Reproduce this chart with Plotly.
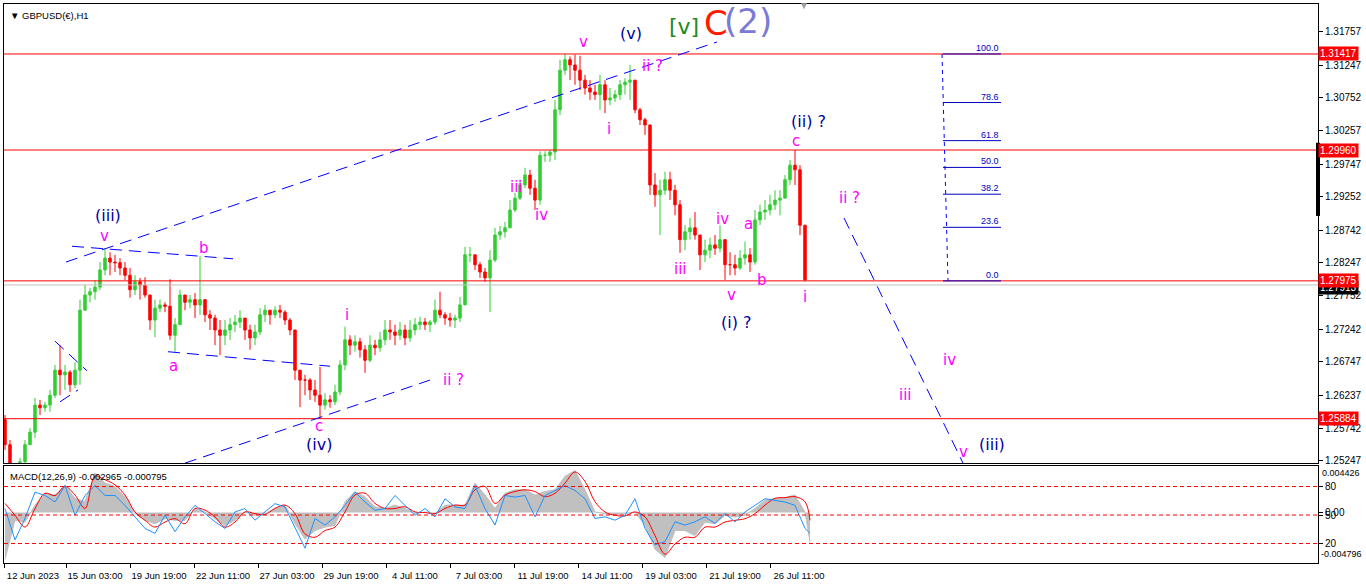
import plotly.graph_objects as go

# GBPUSD H1, 12 Jun - 27 Jul 2023, one candle per 5 hourly bars
first_open = 1.2587
high = [
    1.2594, 1.2556, 1.2511, 1.2529, 1.2556, 1.2574, 1.2620, 1.2617, 1.2614, 1.2632,
    1.2670, 1.2700, 1.2670, 1.2662, 1.2674, 1.2769, 1.2791, 1.2787, 1.2799, 1.2826,
    1.2847, 1.2841, 1.2837, 1.2832, 1.2826, 1.2817, 1.2806, 1.2802, 1.2803, 1.2776,
    1.2769, 1.2769, 1.2765, 1.2800, 1.2741, 1.2784, 1.2776, 1.2776, 1.2779, 1.2835,
    1.2769, 1.2753, 1.2746, 1.2738, 1.2738, 1.2741, 1.2746, 1.2753, 1.2741, 1.2731,
    1.2731, 1.2756, 1.2761, 1.2753, 1.2759, 1.2761, 1.2753, 1.2741, 1.2723, 1.2662,
    1.2655, 1.2650, 1.2647, 1.2667, 1.2627, 1.2624, 1.2640, 1.2677, 1.2728, 1.2715,
    1.2715, 1.2711, 1.2700, 1.2715, 1.2708, 1.2720, 1.2738, 1.2738, 1.2731, 1.2735,
    1.2731, 1.2738, 1.2741, 1.2743, 1.2741, 1.2738, 1.2769, 1.2781, 1.2750, 1.2749,
    1.2746, 1.2773, 1.2849, 1.2849, 1.2837, 1.2826, 1.2817, 1.2844, 1.2878, 1.2881,
    1.2887, 1.2920, 1.2931, 1.2951, 1.2969, 1.2966, 1.2951, 1.2994, 1.2994, 1.2996,
    1.3072, 1.3133, 1.3142, 1.3138, 1.3141, 1.3139, 1.3110, 1.3102, 1.3095, 1.3110,
    1.3102, 1.3090, 1.3087, 1.3102, 1.3105, 1.3125, 1.3102, 1.3060, 1.3045, 1.3034,
    1.2961, 1.2951, 1.2963, 1.2963, 1.2943, 1.2920, 1.2882, 1.2893, 1.2902, 1.2867,
    1.2860, 1.2863, 1.2867, 1.2882, 1.2860, 1.2841, 1.2837, 1.2844, 1.2857, 1.2847,
    1.2905, 1.2913, 1.2920, 1.2928, 1.2935, 1.2935, 1.2958, 1.2981, 1.2996, 1.2973,
    1.2882,
]
low = [
    1.2541, 1.2495, 1.2488, 1.2495, 1.2518, 1.2549, 1.2559, 1.2594, 1.2599, 1.2599,
    1.2620, 1.2624, 1.2632, 1.2629, 1.2635, 1.2640, 1.2753, 1.2765, 1.2769, 1.2784,
    1.2806, 1.2806, 1.2811, 1.2806, 1.2799, 1.2772, 1.2776, 1.2769, 1.2772, 1.2723,
    1.2712, 1.2750, 1.2750, 1.2708, 1.2690, 1.2731, 1.2753, 1.2756, 1.2741, 1.2746,
    1.2735, 1.2723, 1.2700, 1.2685, 1.2700, 1.2708, 1.2720, 1.2726, 1.2708, 1.2693,
    1.2700, 1.2715, 1.2735, 1.2731, 1.2741, 1.2741, 1.2731, 1.2715, 1.2647, 1.2606,
    1.2624, 1.2617, 1.2614, 1.2588, 1.2602, 1.2605, 1.2609, 1.2624, 1.2662, 1.2685,
    1.2690, 1.2681, 1.2658, 1.2674, 1.2685, 1.2690, 1.2700, 1.2708, 1.2700, 1.2708,
    1.2700, 1.2705, 1.2715, 1.2723, 1.2723, 1.2720, 1.2731, 1.2741, 1.2731, 1.2728,
    1.2726, 1.2735, 1.2761, 1.2826, 1.2814, 1.2802, 1.2796, 1.2750, 1.2826, 1.2860,
    1.2863, 1.2878, 1.2902, 1.2920, 1.2938, 1.2928, 1.2905, 1.2913, 1.2978, 1.2978,
    1.2981, 1.3049, 1.3110, 1.3102, 1.3095, 1.3087, 1.3080, 1.3072, 1.3072, 1.3057,
    1.3052, 1.3064, 1.3069, 1.3072, 1.3080, 1.3072, 1.3052, 1.3034, 1.3019, 1.2928,
    1.2910, 1.2867, 1.2928, 1.2920, 1.2897, 1.2840, 1.2844, 1.2860, 1.2860, 1.2814,
    1.2826, 1.2832, 1.2837, 1.2841, 1.2799, 1.2806, 1.2806, 1.2814, 1.2822, 1.2811,
    1.2822, 1.2882, 1.2890, 1.2897, 1.2905, 1.2897, 1.2923, 1.2943, 1.2943, 1.2867,
    1.2797,
]
close = [
    1.2549, 1.2503, 1.2499, 1.2523, 1.2549, 1.2568, 1.2609, 1.2605, 1.2609, 1.2624,
    1.2662, 1.2655, 1.2659, 1.2640, 1.2662, 1.2753, 1.2776, 1.2781, 1.2788, 1.2814,
    1.2832, 1.2826, 1.2825, 1.2817, 1.2806, 1.2784, 1.2796, 1.2791, 1.2776, 1.2738,
    1.2756, 1.2761, 1.2759, 1.2715, 1.2731, 1.2776, 1.2765, 1.2769, 1.2761, 1.2769,
    1.2746, 1.2741, 1.2723, 1.2715, 1.2723, 1.2731, 1.2735, 1.2741, 1.2723, 1.2711,
    1.2720, 1.2746, 1.2753, 1.2746, 1.2753, 1.2750, 1.2738, 1.2723, 1.2662, 1.2647,
    1.2647, 1.2632, 1.2624, 1.2609, 1.2617, 1.2614, 1.2629, 1.2670, 1.2708, 1.2700,
    1.2705, 1.2693, 1.2677, 1.2700, 1.2696, 1.2708, 1.2723, 1.2720, 1.2715, 1.2723,
    1.2711, 1.2723, 1.2731, 1.2735, 1.2731, 1.2735, 1.2753, 1.2746, 1.2741, 1.2738,
    1.2741, 1.2761, 1.2837, 1.2837, 1.2822, 1.2811, 1.2802, 1.2829, 1.2867, 1.2872,
    1.2878, 1.2905, 1.2923, 1.2943, 1.2958, 1.2938, 1.2920, 1.2988, 1.2988, 1.2993,
    1.3057, 1.3117, 1.3133, 1.3125, 1.3117, 1.3102, 1.3090, 1.3084, 1.3080, 1.3095,
    1.3072, 1.3075, 1.3080, 1.3095, 1.3099, 1.3102, 1.3057, 1.3042, 1.3034, 1.2943,
    1.2928, 1.2935, 1.2951, 1.2935, 1.2913, 1.2860, 1.2872, 1.2878, 1.2867, 1.2837,
    1.2844, 1.2852, 1.2847, 1.2860, 1.2822, 1.2822, 1.2817, 1.2832, 1.2837, 1.2826,
    1.2890, 1.2902, 1.2905, 1.2913, 1.2920, 1.2923, 1.2951, 1.2973, 1.2966, 1.2882,
    1.2799,
]

# MACD(12,26,9) sampled every 10 hourly bars, last sample on the last bar
macd_main = [
    -0.00444, -0.00074, -0.00090, 0.00071, 0.00184, 0.00167, 0.00264, 0.00135, 0.00103, 0.00377,
    0.00280, 0.00248, 0.00151, -0.00010, -0.00074, -0.00106, -0.00058, -0.00074, -0.00074, 0.00039,
    0.00006, -0.00058, -0.00122, -0.00074, 0.00006, -0.00026, -0.00010, 0.00039, 0.00071, -0.00106,
    -0.00251, -0.00171, -0.00138, -0.00122, 0.00103, 0.00200, 0.00151, 0.00055, 0.00039, 0.00071,
    0.00039, -0.00010, 0.00006, -0.00010, 0.00071, 0.00071, 0.00071, 0.00280, 0.00167, 0.00039,
    0.00184, 0.00216, 0.00216, 0.00167, 0.00200, 0.00216, 0.00345, 0.00399, 0.00216, 0.00006,
    -0.00010, -0.00026, -0.00010, 0.00006, -0.00122, -0.00348, -0.00428, -0.00171, -0.00171, -0.00219,
    -0.00090, -0.00106, -0.00026, -0.00042, -0.00026, 0.00039, 0.00119, 0.00135, 0.00142, 0.00167,
    0.00006, -0.00283,
]
macd_signal = [
    0.00087, -0.00026, -0.00138, 0.00039, 0.00184, 0.00161, 0.00248, 0.00167, 0.00039, 0.00345,
    0.00312, 0.00264, 0.00167, 0.00006, -0.00074, -0.00138, -0.00090, -0.00058, -0.00106, 0.00039,
    0.00023, -0.00042, -0.00138, -0.00090, 0.00006, -0.00010, -0.00019, 0.00039, 0.00071, -0.00010,
    -0.00203, -0.00235, -0.00171, -0.00138, 0.00006, 0.00167, 0.00184, 0.00087, 0.00039, 0.00039,
    0.00055, 0.00006, 0.00000, -0.00010, 0.00039, 0.00071, 0.00071, 0.00216, 0.00248, 0.00087,
    0.00167, 0.00200, 0.00216, 0.00200, 0.00151, 0.00184, 0.00280, 0.00386, 0.00296, 0.00103,
    0.00006, -0.00026, -0.00032, 0.00006, -0.00042, -0.00219, -0.00396, -0.00299, -0.00235, -0.00235,
    -0.00138, -0.00138, -0.00090, -0.00074, -0.00058, -0.00010, 0.00071, 0.00135, 0.00142, 0.00151,
    0.00103, -0.00074,
]
osc_line = [
    56.8, 23.8, 46.4, 74.1, 70.6, 63.7, 81.0, 49.8, 70.6, 81.0,
    70.6, 70.6, 60.2, 48.1, 35.9, 30.7, 49.8, 32.5, 48.1, 60.2,
    51.6, 42.9, 35.9, 53.3, 56.8, 44.6, 53.3, 62.0, 58.5, 35.9,
    15.1, 46.4, 39.4, 48.1, 60.2, 74.1, 63.7, 55.0, 56.8, 70.6,
    60.2, 49.8, 56.8, 48.1, 67.2, 58.5, 56.8, 81.0, 56.8, 39.4,
    70.6, 68.9, 70.6, 48.1, 70.6, 75.8, 81.0, 75.8, 67.2, 46.4,
    48.1, 44.6, 49.8, 67.2, 35.9, 18.6, 22.1, 42.9, 39.4, 42.9,
    48.1, 41.2, 51.6, 42.9, 53.3, 60.2, 67.2, 65.4, 63.7, 60.2,
    35.9, 30.7,
]
osc_levels = [80, 50, 20]

date_labels = ["12 Jun 2023", "15 Jun 03:00", "19 Jun 19:00", "22 Jun 11:00", "27 Jun 03:00",
               "29 Jun 19:00", "4 Jul 11:00", "7 Jul 03:00", "11 Jul 19:00", "14 Jul 11:00",
               "19 Jul 03:00", "21 Jul 19:00", "26 Jul 11:00"]
date_bars = [-1, 61, 125, 189, 253, 317, 381, 445, 509, 573, 637, 701, 765]

price_ticks = [1.31757, 1.31247, 1.30752, 1.30257, 1.29747, 1.29252, 1.28742,
               1.28247, 1.27752, 1.27242, 1.26747, 1.26237, 1.25742, 1.25247]
red_levels = [1.31417, 1.29960, 1.27975, 1.25884]
bid_price = 1.27913

fib_top = 1.31417
fib_bottom = 1.27975
fib_levels = [0.0, 23.6, 38.2, 50.0, 61.8, 78.6, 100.0]

wave_text = ["(iii)", "v", "b", "a", "c", "(iv)", "i", "ii ?", "iii", "iv", "v", "(v)",
             "ii ?", "i", "iii", "iv", "v", "(i) ?", "a", "b", "c", "(ii) ?", "i",
             "ii ?", "iii", "iv", "v", "(iii)"]
wave_bar = [103, 99, 199, 168, 314, 314, 342, 448, 511, 536, 578, 626,
            647, 604, 675, 717, 726, 731, 743, 757, 791, 803, 800,
            844, 900, 944, 958, 987]
wave_price = [1.2896, 1.2866, 1.2847, 1.2668, 1.2577, 1.2549, 1.2746, 1.2647, 1.2940, 1.2897,
              1.3160, 1.3172, 1.3124, 1.3028, 1.2816, 1.2891, 1.2776, 1.2735, 1.2884, 1.2799,
              1.3010, 1.3039, 1.2773, 1.2923, 1.2625, 1.2678, 1.2538, 1.2550]
wave_kind = ["n", "m", "m", "m", "m", "n", "m", "m", "m", "m", "m", "n",
             "m", "m", "m", "m", "m", "n", "m", "m", "m", "n", "m",
             "m", "m", "m", "m", "n"]

# big labels top: [v] C (2)
big_text = ["[v]", "C", "(2)"]
big_bar = [679, 711, 743]
big_price = [1.3183, 1.3189, 1.3191]

# dashed blue wave lines: bar0, price0, bar1, price1
wave_lines = [
    (61, 1.28261, 712, 1.31599),
    (67, 1.2850, 228, 1.2831),
    (163, 1.2690, 325, 1.2668),
    (180, 1.2521, 425, 1.2647),
    (50, 1.2706, 82, 1.2661),
    (55, 1.2614, 73, 1.2632),
    (839, 1.2893, 958, 1.2521),
]

bars = [5 * i for i in range(len(close))]
opens = [first_open] + close[:-1]
macd_bars = list(range(0, 801, 10)) + [805]

MAGENTA = "#ff00ff"
NAVY = "#0000a0"
FONT = "Liberation Sans"

fig = go.Figure()
fig.add_trace(go.Candlestick(
    x=bars, open=opens, high=high, low=low, close=close,
    increasing=dict(line=dict(color="#32cd32", width=1), fillcolor="#32cd32"),
    decreasing=dict(line=dict(color="#ff0000", width=1), fillcolor="#ff0000"),
    whiskerwidth=0, xaxis="x", yaxis="y", showlegend=False,
))
fig.add_trace(go.Scatter(
    x=macd_bars, y=macd_main, mode="lines", fill="tozeroy",
    fillcolor="#c0c0c0", line=dict(color="#c0c0c0", width=1),
    xaxis="x2", yaxis="y3", showlegend=False,
))
fig.add_trace(go.Scatter(
    x=macd_bars, y=osc_line, mode="lines", line=dict(color="#1e90ff", width=1),
    xaxis="x2", yaxis="y4", showlegend=False,
))
fig.add_trace(go.Scatter(
    x=macd_bars, y=macd_signal, mode="lines", line=dict(color="#ff0000", width=1),
    xaxis="x2", yaxis="y3", showlegend=False, line_shape="spline",
))

shapes = []
for level in red_levels:
    shapes.append(dict(type="line", xref="x domain", yref="y", x0=0, x1=1, y0=level, y1=level,
                       line=dict(color="#ff0000", width=1)))
shapes.append(dict(type="line", xref="x domain", yref="y", x0=0, x1=1, y0=bid_price, y1=bid_price,
                   line=dict(color="#c0c0c0", width=1)))
for b0, p0, b1, p1 in wave_lines:
    shapes.append(dict(type="line", xref="x", yref="y", x0=b0, y0=p0, x1=b1, y1=p1,
                       line=dict(color="#0000ff", width=1, dash="12px,7px")))
# fibonacci retracement
shapes.append(dict(type="line", xref="x", yref="y", x0=937, y0=fib_top, x1=943, y1=fib_bottom,
                   line=dict(color="#0000ff", width=1, dash="4px,4px")))
for lv in fib_levels:
    price = fib_bottom + (fib_top - fib_bottom) * lv / 100
    shapes.append(dict(type="line", xref="x", yref="y", x0=938, x1=996, y0=price, y1=price,
                       line=dict(color="#0000c0", width=1)))
# oscillator levels
for lv in osc_levels:
    shapes.append(dict(type="line", xref="x2 domain", yref="y4", x0=0, x1=1, y0=lv, y1=lv,
                       line=dict(color="#ff0000", width=1, dash="4px,3px")))
# black marker on the price scale
shapes.append(dict(type="line", xref="x domain", yref="y", x0=1, x1=1, y0=1.3007, y1=1.2896,
                   line=dict(color="#000000", width=4)))

ann = []
for t, b, p, k in zip(wave_text, wave_bar, wave_price, wave_kind):
    ann.append(dict(x=b, y=p, xref="x", yref="y", text=t, showarrow=False,
                    font=dict(family="DejaVu Sans", size=16 if k == "n" else 15,
                              color=NAVY if k == "n" else MAGENTA)))
big_style = [("#1f8a1f", 22), ("#ff1a00", 34), ("#7b7bd6", 34)]
for t, b, p, (col, sz) in zip(big_text, big_bar, big_price, big_style):
    ann.append(dict(x=b, y=p, xref="x", yref="y", text=t, showarrow=False,
                    font=dict(family="DejaVu Sans", size=sz, color=col)))
for lv in fib_levels:
    price = fib_bottom + (fib_top - fib_bottom) * lv / 100
    ann.append(dict(x=996, y=price, xref="x", yref="y", text=f"{lv:.1f}", showarrow=False,
                    xanchor="right", yanchor="bottom", yshift=-1,
                    font=dict(family=FONT, size=9, color="#0000c0")))
# bid label then red level labels on top
ann.append(dict(x=1, y=bid_price, xref="paper", yref="y", text="1.27913", showarrow=False,
                xanchor="left", yanchor="middle", yshift=-3, bgcolor="#000000", borderpad=1,
                font=dict(family=FONT, size=10, color="#ffffff")))
for level in red_levels:
    ann.append(dict(x=1, y=level, xref="paper", yref="y", text=f"{level:.5f}", showarrow=False,
                    xanchor="left", yanchor="middle", bgcolor="#ff0000", borderpad=1,
                    font=dict(family=FONT, size=10, color="#ffffff")))
ann.append(dict(x=0, y=1, xref="paper", yref="paper", text="▼ GBPUSD(€),H1", showarrow=False,
                xanchor="left", yanchor="top", xshift=4, yshift=-4,
                font=dict(family=FONT, size=9.5, color="#000000")))
ann.append(dict(x=0, y=1, xref="x2 domain", yref="y3 domain",
                text="MACD(12,26,9) -0.002965 -0.000795", showarrow=False,
                xanchor="left", yanchor="top", xshift=4, yshift=-3,
                font=dict(family=FONT, size=9.5, color="#000000")))
ann.append(dict(x=1, y=1, xref="x2 domain", yref="y3 domain", text="0.004426", showarrow=False,
                xanchor="left", yanchor="top", xshift=2,
                font=dict(family=FONT, size=9, color="#000000")))
ann.append(dict(x=1, y=0, xref="x2 domain", yref="y3 domain", text="-0.004796", showarrow=False,
                xanchor="left", yanchor="bottom", xshift=1, yshift=2,
                font=dict(family=FONT, size=9, color="#000000")))
ann.append(dict(x=799, y=1, xref="x", yref="paper", text="▼", showarrow=False,
                yanchor="middle", yshift=-1, font=dict(size=10, color="#a0a0a0")))

axis_common = dict(showgrid=False, zeroline=False, showline=True, mirror=True,
                   linecolor="#000000", linewidth=1)

fig.update_layout(
    width=1366, height=588,
    margin=dict(l=4, r=48, t=4, b=25),
    paper_bgcolor="#ffffff", plot_bgcolor="#ffffff",
    showlegend=False,
    xaxis=dict(domain=[0, 1], range=[-1, 1313], anchor="y", showticklabels=False,
               rangeslider=dict(visible=False), **axis_common),
    yaxis=dict(domain=[0.1789, 1], range=[1.25212, 1.32175], side="right", anchor="x",
               tickvals=price_ticks, tickformat=".5f", ticks="outside", ticklen=4,
               tickcolor="#000000", tickfont=dict(family=FONT, size=10, color="#000000"),
               **axis_common),
    xaxis2=dict(domain=[0, 1], range=[-1, 1313], anchor="y3", matches="x",
                tickvals=date_bars, ticktext=date_labels, ticks="outside", ticklen=4,
                tickcolor="#000000", ticklabelshift=29,
                tickfont=dict(family=FONT, size=9.5, color="#000000"), **axis_common),
    yaxis3=dict(domain=[0, 0.1735], range=[-0.004796, 0.004426], side="right", anchor="x2",
                tickvals=[0], ticktext=["0.00"], ticks="outside", ticklen=4,
                tickcolor="#000000", tickfont=dict(family=FONT, size=10, color="#000000"),
                **axis_common),
    yaxis4=dict(range=[-0.5, 101.6], overlaying="y3", side="right", anchor="x2",
                tickvals=osc_levels, ticks="outside", ticklen=4, tickcolor="#000000",
                tickfont=dict(family=FONT, size=10, color="#000000"),
                showgrid=False, zeroline=False, showline=False),
    shapes=shapes,
    annotations=ann,
)

# drop the browser's default page margin so the chart sits at the window origin
fig.write_html("out.html", config={"displayModeBar": False},
               post_script="document.body.style.margin='0';"
               "document.body.style.overflow='hidden';")
